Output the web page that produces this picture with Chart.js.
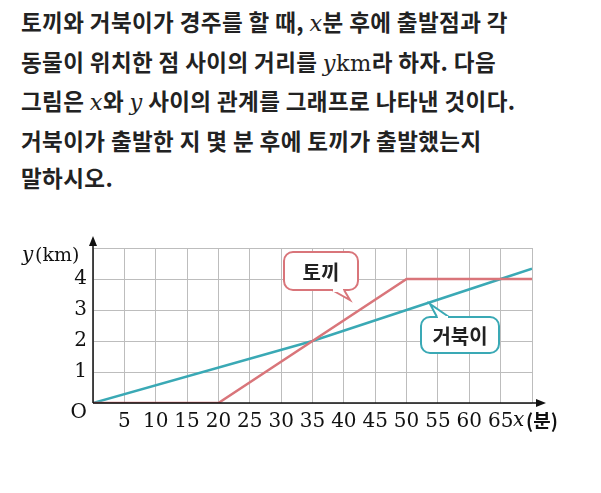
<!DOCTYPE html>
<html><head><meta charset="utf-8">
<script src="https://cdn.jsdelivr.net/npm/chart.js@4"></script>
<style>
body{margin:0;background:#fff;width:601px;height:493px;overflow:hidden;position:relative;font-family:"Noto Sans CJK KR","Noto Sans",sans-serif}
#q{position:absolute;left:21px;top:3px;font-size:22.5px;font-weight:bold;line-height:37.5px;color:#222;letter-spacing:0.4px;white-space:nowrap}
#q i{font-family:"DejaVu Serif",serif;font-weight:normal}
canvas{position:absolute;left:0;top:0}
</style></head><body>
<div id="q">토끼와 거북이가 경주를 할 때, <i>x</i>분 후에 출발점과 각<br>동물이 위치한 점 사이의 거리를 <i>y</i><span style="font-family:'DejaVu Serif';font-weight:normal">km</span>라 하자. 다음<br>그림은 <i>x</i>와 <i>y</i> 사이의 관계를 그래프로 나타낸 것이다.<br>거북이가 출발한 지 몇 분 후에 토끼가 출발했는지<br>말하시오.</div>
<canvas id="c" width="601" height="493"></canvas>
<script>
const xTicks = [5,10,15,20,25,30,35,40,45,50,55,60,65];
const yTicks = [1,2,3,4];
const rabbitX = [0,20,50,70];
const rabbitY = [0,0,4,4];
const turtleX = [0,35,50,65,70];
const turtleY = [0,2,3,4,4.33];
const RED = '#d9757a', TEAL = '#3aa9b5';

const overlay = {
  id:'overlay',
  afterDraw(ch){
    const c = ch.ctx, xs = ch.scales.x, ys = ch.scales.y;
    const X = v=>xs.getPixelForValue(v), Y = v=>ys.getPixelForValue(v);
    c.save();
    c.strokeStyle='#111'; c.fillStyle='#111'; c.lineWidth=1.5;
    c.beginPath(); c.moveTo(X(0),Y(0)); c.lineTo(X(70)+10,Y(0)); c.stroke();
    c.beginPath(); c.moveTo(X(0),Y(0)); c.lineTo(X(0),Y(5)-8); c.stroke();
    c.beginPath(); c.moveTo(X(70)+14,Y(0)); c.lineTo(X(70)+4,Y(0)-4); c.lineTo(X(70)+4,Y(0)+4); c.fill();
    c.beginPath(); c.moveTo(X(0),Y(5)-12); c.lineTo(X(0)-4,Y(5)-2); c.lineTo(X(0)+4,Y(5)-2); c.fill();
    c.font='20px "DejaVu Serif",serif'; c.textBaseline='middle';
    c.textAlign='center';
    xTicks.forEach(v=>c.fillText(String(v),X(v),Y(0)+19));
    c.textAlign='right';
    yTicks.forEach(v=>c.fillText(String(v),X(0)-6,Y(v)));
    c.fillText('O',X(0)-6,Y(0)+10);
    c.font='italic 20px "DejaVu Serif",serif'; c.textAlign='left';
    c.fillText('x',X(70)-19,Y(0)+18);
    c.fillText('y',22,Y(5)+8);
    c.font='19px "DejaVu Serif",serif'; c.fillText('(km)',35,Y(5)+8);
    c.font='bold 19px "Noto Sans CJK KR"'; c.fillText('(분)',X(70)-6,Y(0)+18);
    function bubble(x,y,w,h,tail,col,txt){
      c.lineWidth=2; c.strokeStyle=col; c.fillStyle='#fff';
      c.beginPath(); c.roundRect(x,y,w,h,9); c.fill(); c.stroke();
      c.beginPath(); c.moveTo(tail[0],tail[1]); c.lineTo(tail[2],tail[3]); c.lineTo(tail[4],tail[5]);
      c.fill(); c.stroke();
      c.fillStyle='#fff'; c.fillRect(Math.min(tail[0],tail[4])+1, Math.min(tail[1],tail[5])-1, Math.abs(tail[4]-tail[0])-2, 3);
      c.fillStyle='#222'; c.font='bold 20px "Noto Sans CJK KR"'; c.textAlign='center';
      c.fillText(txt,x+w/2,y+h/2+1);
    }
    bubble(284,252,74,38,[332,290,350,300,344,290],RED,'토끼');
    bubble(421,317,78,36,[437,317,430,304,449,317],TEAL,'거북이');
    c.restore();
  }
};

new Chart(document.getElementById('c'),{
  type:'scatter',
  data:{datasets:[
    {data:rabbitX.map((x,i)=>({x,y:rabbitY[i]})),showLine:true,borderColor:RED,borderWidth:2.5,pointRadius:0},
    {data:turtleX.map((x,i)=>({x,y:turtleY[i]})),showLine:true,borderColor:TEAL,borderWidth:2.5,pointRadius:0}
  ]},
  options:{
    responsive:false,animation:false,
    layout:{padding:{left:93,right:69,top:248,bottom:90}},
    plugins:{legend:{display:false},tooltip:{enabled:false}},
    scales:{
      x:{type:'linear',min:0,max:70,ticks:{stepSize:5,display:false},grid:{color:'#bdbdbd',drawTicks:false},border:{display:false}},
      y:{min:0,max:5,ticks:{stepSize:1,display:false},grid:{color:'#bdbdbd',drawTicks:false},border:{display:false}}
    }
  },
  plugins:[overlay]
});
</script>
</body></html>
